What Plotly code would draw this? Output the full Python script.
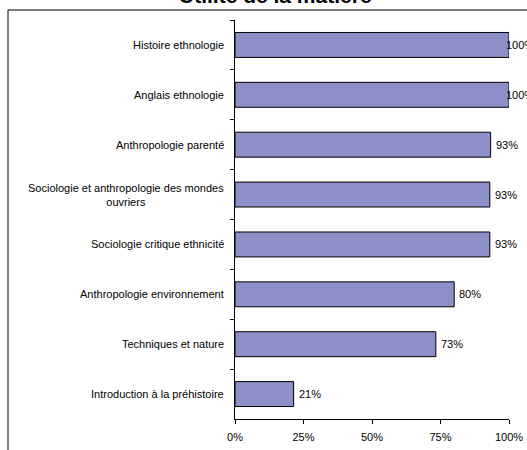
import plotly.graph_objects as go

categories = [
    "Histoire ethnologie",
    "Anglais ethnologie",
    "Anthropologie parenté",
    "Sociologie et anthropologie des mondes<br>ouvriers",
    "Sociologie critique ethnicité",
    "Anthropologie environnement",
    "Techniques et nature",
    "Introduction à la préhistoire",
]
values = [1.0, 1.0, 0.933, 0.93, 0.93, 0.80, 0.733, 0.214]
value_labels = ["100%", "100%", "93%", "93%", "93%", "80%", "73%", "21%"]
x_tickvals = [0, 0.25, 0.5, 0.75, 1.0]
x_ticktext = ["0%", "25%", "50%", "75%", "100%"]
title_text = "Utilité de la matière"

W, H = 527, 450
ML, MR, MT, MB = 235, 18, 20, 31
PW, PH = W - ML - MR, H - MT - MB
FONT = "Liberation Sans, Arial"

fig = go.Figure()
fig.add_trace(go.Bar(
    x=values, y=categories, orientation="h",
    marker=dict(color="#8C8FC8", line=dict(color="black", width=1)),
    width=0.5, hoverinfo="skip",
))

# category labels (centred multi-line, right-aligned block)
for c in categories:
    fig.add_annotation(
        x=0, y=c, xref="paper", yref="y", text=c, showarrow=False,
        xanchor="right", yanchor="middle", align="center", xshift=-9,
        font=dict(family=FONT, size=11, color="black"),
    )

for v, t, c in zip(values, value_labels, categories):
    fig.add_annotation(
        x=v, y=c, xref="x", yref="y", text=t, showarrow=False,
        xanchor="left", yanchor="middle",
        xshift=(-5 if v >= 1 else 3),
        font=dict(family=FONT, size=11, color="black"),
    )

fig.add_annotation(
    x=(275 - ML) / PW, y=1 + (MT - 9) / PH, xref="paper", yref="paper",
    text="<b>" + title_text + "</b>", showarrow=False,
    xanchor="center", yanchor="bottom",
    font=dict(family=FONT, size=21, color="black"),
)

# outer chart-area frame (partially visible, cropped)
fig.add_shape(type="path", xref="paper", yref="paper",
              path=f"M {(8 - ML) / PW} -0.5 L {(8 - ML) / PW} {1 + (MT - 10) / PH} L 1.5 {1 + (MT - 10) / PH}",
              line=dict(color="black", width=1))

fig.update_layout(
    template="none",
    width=W, height=H,
    margin=dict(l=ML, r=MR, t=MT, b=MB, pad=0, autoexpand=False),
    paper_bgcolor="white", plot_bgcolor="white",
    showlegend=False,
    font=dict(family=FONT, size=11, color="black"),
    xaxis=dict(
        automargin=False,
        range=[0, 1], tickvals=x_tickvals, ticktext=x_ticktext,
        showgrid=False, zeroline=False, showline=True, linecolor="black", linewidth=1,
        ticks="outside", ticklen=4, tickcolor="black", ticklabelstandoff=4,
        tickfont=dict(size=11),
    ),
    yaxis=dict(
        automargin=False,
        autorange="reversed", showgrid=False, zeroline=False,
        showline=True, linecolor="black", linewidth=1,
        ticks="outside", ticklen=4, tickcolor="black", tickson="boundaries",
        showticklabels=False,
    ),
)

fig.write_html("out.html", config={"displayModeBar": False},
               post_script="document.body.style.margin='0';")
